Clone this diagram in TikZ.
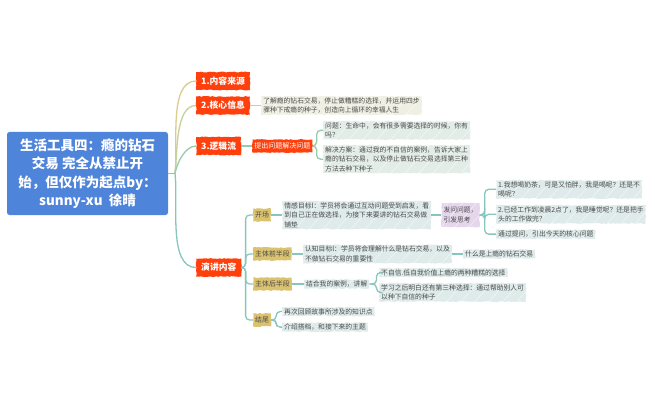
\documentclass[tikz,border=0pt]{standalone}
\usepackage{fontspec}
\setmainfont{Noto Sans CJK SC}
\usetikzlibrary{positioning,decorations.pathmorphing}

\definecolor{rootblue}{HTML}{4F84DB}
\definecolor{topicred}{HTML}{FF3F0C}
\definecolor{stagegold}{HTML}{DBC26E}
\definecolor{leafteal}{HTML}{DEEBEA}
\definecolor{leafgreen}{HTML}{E3EDE8}
\definecolor{leafbeige}{HTML}{EFF0E3}
\definecolor{askpurple}{HTML}{E6D6EC}
\definecolor{inkgray}{HTML}{4A4A4A}
\definecolor{lineyellow}{HTML}{DCCB8C}
\definecolor{lineolive}{HTML}{C6D09A}
\definecolor{linegreen}{HTML}{94CBAC}
\definecolor{lineteal}{HTML}{86C6BE}

\tikzset{
  rough/.style={decorate,decoration={random steps,segment length=2.2pt,amplitude=.5pt}},
  hatched/.style={fill=#1,path picture={
    \foreach \sx in {-160,-146,...,160}
      \draw[white,opacity=.6,line width=.5pt] ([xshift=\sx pt]path picture bounding box.south) -- ++(40pt,45pt);
  }},
  rootnode/.style={fill=rootblue,rounded corners=2.5pt,text=white,align=center,minimum width=161pt,minimum height=83pt,
    inner sep=0pt,font=\fontsize{13.5}{18.3}\selectfont\bfseries},
  topic/.style={rough,fill=topicred,text=white,minimum height=18pt,inner xsep=5pt,inner ysep=0pt,font=\fontsize{8.8}{10}\selectfont\bfseries},
  subtopic/.style={rough,fill=topicred,text=white,minimum height=13pt,inner xsep=2pt,inner ysep=0pt,font=\fontsize{7}{9}\selectfont},
  stagebox/.style={rough,fill=stagegold,text=inkgray,minimum height=13pt,inner xsep=2pt,inner ysep=0pt,font=\fontsize{6.9}{9}\selectfont},
  leaf/.style={rough,hatched=leafteal,text=inkgray,align=left,inner xsep=2pt,inner ysep=1.2pt,font=\fontsize{6.8}{9.6}\selectfont},
  leafg/.style={leaf,fill=leafgreen},
  leafb/.style={leaf,fill=leafbeige},
  askbox/.style={leaf,fill=askpurple,minimum height=24pt},
  branch/.style={line width=1.3pt,#1},
  elbow/.style={line width=1.3pt,rounded corners=4pt,#1}
}

\begin{document}
\begin{tikzpicture}[x=1pt,y=-1pt,node distance=11pt]
    \useasboundingbox (0,0) rectangle (655,406);

    \node[rootnode] (root) at (87.5,173.5) {生活工具四：瘾的钻石\\交易 完全从禁止开\\始，但仅作为起点by：\\sunny-xu\ \ 徐晴};
    \coordinate (rootjoint) at (175,173.5);

    % left column
    \node[topic] (source) [anchor=west] at (196,81)    {1.内容来源};
    \node[topic] (core)   [anchor=west] at (196,105.5) {2.核心信息};
    \node[topic] (logic)  [anchor=west] at (196,146)   {3.逻辑流};
    \node[topic] (talk)   [anchor=west] at (196,267.5) {演讲内容};

    \node[leafb]    (coretext) [right=11pt of core] {了解瘾的钻石交易，停止做糟糕的选择，并运用四步\\骤种下戒瘾的种子，创造向上循环的幸福人生};
    \node[subtopic] (solve)    [right=11pt of logic] {提出问题解决问题};
    \node[leafg]    (question) [anchor=north west] at (323,121) {问题：生命中，会有很多需要选择的时候，你有\\吗？};
    \node[leafg]    (answer)   [anchor=north west] at (323,145) {解决方案：通过我的不自信的案例，告诉大家上\\瘾的钻石交易，以及停止做钻石交易选择第三种\\方法去种下种子};

    % the four stages
    \node[stagebox] (opening) [anchor=west] at (253,215) {开场};
    \node[stagebox] (first)   [anchor=west] at (253,254) {主体前半段};
    \node[stagebox] (second)  [anchor=west] at (253,284) {主体后半段};
    \node[stagebox] (ending)  [anchor=west] at (253,320) {结尾};

    \node[leaf]   (feeling) [right=11pt of opening] {情感目标l：学员将会通过互动问题受到启发，看\\到自己正在做选择，为接下来要讲的钻石交易做\\铺垫};
    \node[askbox] (ask)     [right=10pt of feeling] {发问问题，\\引发思考};
    \node[leaf]   (milk)    [anchor=north west] at (496,180) {1.我想喝奶茶，可是又怕胖，我是喝呢？还是不\\喝呢？};
    \node[leaf]   (late)    [anchor=north west] at (496,205) {2.已经工作到凌晨2点了，我是睡觉呢？还是把手\\头的工作做完？};
    \node[leaf]   (lead)    [anchor=north west] at (496,229.5) {通过提问，引出今天的核心问题};

    \node[leaf] (know)  [right=11pt of first] {认知目标l：学员将会理解什么是钻石交易，以及\\不做钻石交易的重要性};
    \node[leaf] (what)  [right=11pt of know] {什么是上瘾的钻石交易};

    \node[leaf] (case)  [right=12pt of second] {结合我的案例，讲解};
    \node[leaf] (low)   [anchor=north west] at (379,268) {不自信.低自我价值上瘾的两种糟糕的选择};
    \node[leaf] (third) [anchor=north west] at (379,283) {学习之后明白还有第三种选择：通过帮助别人可\\以种下自信的种子};

    \node[leaf] (review) [anchor=north west] at (282,307) {再次回顾故事所涉及的知识点};
    \node[leaf] (next)   [anchor=north west] at (282,322.5) {介绍搭档，和接下来的主题};

    \draw[branch=lineteal] (root.east) -- (rootjoint);
    \draw[branch=lineyellow] (rootjoint) to[out=83,in=180,looseness=.75] (source.west);
    \draw[branch=lineolive]  (rootjoint) to[out=83,in=180,looseness=.75] (core.west);
    \draw[branch=linegreen]  (rootjoint) to[out=80,in=180,looseness=.8] (logic.west);
    \draw[branch=lineteal]   (rootjoint) to[out=-83,in=180,looseness=.75] (talk.west);

    \draw[branch=lineolive] (core) -- (coretext);
    \draw[branch=linegreen] (logic) -- (solve);
    \draw[elbow=linegreen] (solve.east) -- ++(4,0) |- (question.west);
    \draw[elbow=linegreen] (solve.east) -- ++(4,0) |- (answer.west);

    \draw[elbow=lineteal] (talk.east) -- ++(4,0) |- (opening.west);
    \draw[elbow=lineteal] (talk.east) -- ++(4,0) |- (first.west);
    \draw[elbow=lineteal] (talk.east) -- ++(4,0) |- (second.west);
    \draw[elbow=lineteal] (talk.east) -- ++(4,0) |- (ending.west);

    \draw[branch=lineteal] (opening) -- (feeling);
    \draw[branch=lineteal] (feeling) -- (ask);
    \draw[elbow=lineteal] (ask.east) -- ++(5,0) |- (milk.west);
    \draw[elbow=lineteal] (ask.east) -- ++(5,0) |- (late.west);
    \draw[elbow=lineteal] (ask.east) -- ++(5,0) |- (lead.west);

    \draw[branch=lineteal] (first) -- (know);
    \draw[branch=lineteal] (know) -- (what);

    \draw[branch=lineteal] (second) -- (case);
    \draw[elbow=lineteal] (case.east) -- ++(7,0) |- (low.west);
    \draw[elbow=lineteal] (case.east) -- ++(7,0) |- (third.west);

    \draw[elbow=lineteal] (ending.east) -- ++(5,0) |- (review.west);
    \draw[elbow=lineteal] (ending.east) -- ++(5,0) |- (next.west);
\end{tikzpicture}
\end{document}
